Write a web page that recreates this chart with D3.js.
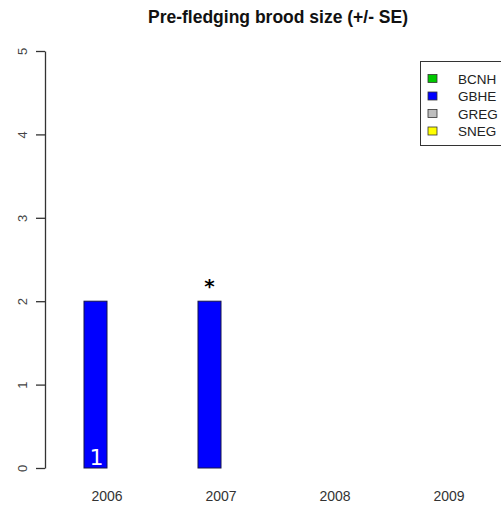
<!DOCTYPE html>
<html>
<head>
<meta charset="utf-8">
<script src="https://cdn.jsdelivr.net/npm/d3@7"></script>
<style>
  html, body { margin: 0; padding: 0; background: #fff; }
  svg { display: block; }
</style>
</head>
<body>
<script>
// Brood size by year for each heron/egret species
const years = ["2006", "2007", "2008", "2009"];
const species = ["BCNH", "GBHE", "GREG", "SNEG"];
const speciesColors = ["#00c800", "#0000ff", "#bebebe", "#ffff00"];
// mean brood size per species by year; null = no data
const BCNH = [null, null, null, null];
const GBHE = [2, 2, null, null];
const GREG = [null, null, null, null];
const SNEG = [null, null, null, null];
// annotation drawn on each bar (sample size or flag)
const GBHE_notes = ["1", "*", null, null];
const yTicks = [0, 1, 2, 3, 4, 5];

const series = { BCNH, GBHE, GREG, SNEG };
const notes = { GBHE: GBHE_notes };

const W = 501, H = 508;
const FONT = "Liberation Sans, Arial, sans-serif";
const svg = d3.select("body").append("svg").attr("width", W).attr("height", H);

const y = d3.scaleLinear().domain([0, 5]).range([468, 51]);
const x = d3.scaleBand().domain(years).range([50, 506]).paddingInner(0.193).paddingOuter(0.0965);
const xs = d3.scaleBand().domain(species).range([0, x.bandwidth()]);
const color = d3.scaleOrdinal().domain(species).range(speciesColors);

// title
svg.append("text")
  .attr("x", 278).attr("y", 23)
  .attr("text-anchor", "middle")
  .attr("font-family", FONT)
  .attr("font-weight", "bold")
  .attr("font-size", 17.5)
  .attr("fill", "#111")
  .text("Pre-fledging brood size (+/- SE)");

// y axis
const yAxis = d3.axisLeft(y).tickValues(yTicks).tickSize(9).tickSizeOuter(0).tickFormat(d3.format("d"));
const gy = svg.append("g").attr("transform", "translate(45,0)").call(yAxis);
gy.select(".domain").attr("stroke", "#333").attr("stroke-width", 1.3);
gy.selectAll(".tick line").attr("stroke", "#333").attr("stroke-width", 1.3);
gy.selectAll(".tick text")
  .attr("font-family", FONT)
  .attr("font-size", 13)
  .attr("fill", "#444")
  .attr("x", 0).attr("dy", 0)
  .attr("text-anchor", "middle")
  .attr("transform", "translate(-23,0) rotate(-90)")
  .attr("dominant-baseline", "central");

// year labels
svg.append("g").selectAll("text").data(years).join("text")
  .attr("x", d => x(d) + x.bandwidth() / 2)
  .attr("y", 501)
  .attr("text-anchor", "middle")
  .attr("font-family", FONT)
  .attr("font-size", 14)
  .attr("fill", "#333")
  .text(d => d);

// bars
const barData = [];
species.forEach(s => {
  series[s].forEach((v, i) => {
    if (v != null) barData.push({ s, year: years[i], v, note: notes[s] ? notes[s][i] : null });
  });
});

svg.append("g").selectAll("rect").data(barData).join("rect")
  .attr("x", d => x(d.year) + xs(d.s))
  .attr("y", d => y(d.v))
  .attr("width", xs.bandwidth())
  .attr("height", d => y(0) - y(d.v))
  .attr("fill", d => color(d.s))
  .attr("stroke", "#14144a")
  .attr("stroke-width", 1);

// sample-size label inside bar, flag above bar
barData.filter(d => d.note === "1").forEach(d => {
  svg.append("text")
    .attr("x", x(d.year) + xs(d.s) + xs.bandwidth() / 2 + 1)
    .attr("y", y(0) - 3)
    .attr("text-anchor", "middle")
    .attr("font-family", "DejaVu Sans, sans-serif")
    .attr("font-size", 22)
    .attr("fill", "#fff")
    .text(d.note);
});
barData.filter(d => d.note === "*").forEach(d => {
  svg.append("text")
    .attr("x", x(d.year) + xs(d.s) + xs.bandwidth() / 2)
    .attr("y", y(d.v) - 8)
    .attr("text-anchor", "middle")
    .attr("font-family", "DejaVu Sans, sans-serif")
    .attr("font-weight", "bold")
    .attr("font-size", 20)
    .attr("fill", "#000")
    .text(d.note);
});

// legend
const lg = svg.append("g");
lg.append("rect")
  .attr("x", 420.5).attr("y", 61.5)
  .attr("width", 100).attr("height", 84)
  .attr("fill", "#fff").attr("stroke", "#333").attr("stroke-width", 1);
species.forEach((s, i) => {
  const cy = 78.5 + i * 17.5;
  lg.append("rect")
    .attr("x", 428).attr("y", cy - 4)
    .attr("width", 9).attr("height", 8)
    .attr("fill", color(s)).attr("stroke", "#333").attr("stroke-width", 0.8);
  lg.append("text")
    .attr("x", 458).attr("y", cy + 5)
    .attr("font-family", FONT)
    .attr("font-size", 13.5)
    .attr("fill", "#222")
    .text(s);
});
</script>
</body>
</html>
